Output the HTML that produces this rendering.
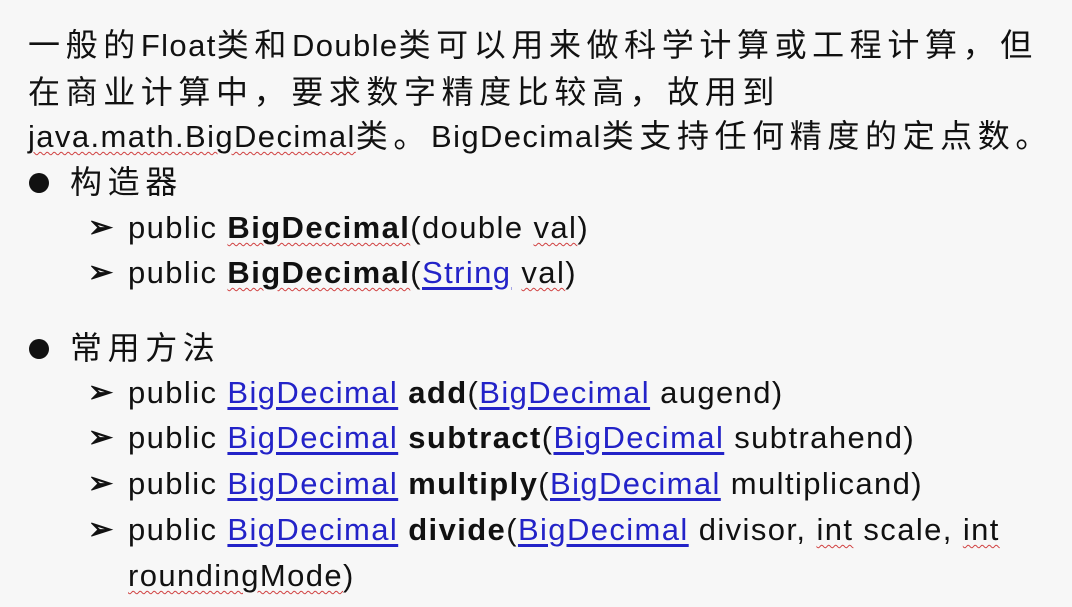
<!DOCTYPE html>
<html><head><meta charset="utf-8">
<style>
html,body{margin:0;padding:0;}
body{width:1072px;height:607px;background:#f7f7f7;position:relative;overflow:hidden;
font-family:"Liberation Sans","Noto Sans CJK SC",sans-serif;font-size:31px;letter-spacing:1.4px;color:#111;}
.l{position:absolute;white-space:nowrap;line-height:40px;}
.c{font-size:32px;letter-spacing:5.6px;}
.r{text-decoration:underline wavy #d04040;text-decoration-thickness:1px;text-underline-offset:4px;}
.a{color:#2323c8;text-decoration:underline;text-decoration-color:#2323c8;text-underline-offset:4px;}
b{font-weight:bold;}
.bul{position:absolute;width:20px;height:20px;border-radius:50%;background:#111;}
.arr{position:absolute;left:0;top:0;font-size:30px;font-weight:bold;letter-spacing:0;}
.t{position:absolute;left:40px;top:0;}
</style></head><body>
<div class="l" style="left:28px;top:25px;"><span class="c">一般的</span>Float<span class="c">类和</span>Double<span class="c">类可以用来做科学计算或工程计算，但</span></div>
<div class="l" style="left:28px;top:72px;"><span class="c">在商业计算中，要求数字精度比较高，故用到</span></div>
<div class="l" style="left:28px;top:116px;"><span class="r">java.math.BigDecimal</span><span class="c">类。</span>BigDecimal<span class="c">类支持任何精度的定点数。</span></div>
<div class="bul" style="left:29px;top:173px;"></div>
<div class="l" style="left:70px;top:162px;"><span class="c">构造器</span></div>
<div class="l" style="left:88px;top:208px;"><span class="arr">➢</span><span class="t">public <b class="r">BigDecimal</b>(double <span class="r">val</span>)</span></div>
<div class="l" style="left:88px;top:253px;"><span class="arr">➢</span><span class="t">public <b class="r">BigDecimal</b>(<span class="a">String</span> <span class="r">val</span>)</span></div>
<div class="bul" style="left:29px;top:339px;"></div>
<div class="l" style="left:70px;top:328px;"><span class="c">常用方法</span></div>
<div class="l" style="left:88px;top:373px;"><span class="arr">➢</span><span class="t">public <span class="a">BigDecimal</span> <b>add</b>(<span class="a">BigDecimal</span> augend)</span></div>
<div class="l" style="left:88px;top:418px;"><span class="arr">➢</span><span class="t">public <span class="a">BigDecimal</span> <b>subtract</b>(<span class="a">BigDecimal</span> subtrahend)</span></div>
<div class="l" style="left:88px;top:464px;"><span class="arr">➢</span><span class="t">public <span class="a">BigDecimal</span> <b>multiply</b>(<span class="a">BigDecimal</span> multiplicand)</span></div>
<div class="l" style="left:88px;top:510px;"><span class="arr">➢</span><span class="t">public <span class="a">BigDecimal</span> <b>divide</b>(<span class="a">BigDecimal</span> divisor, <span class="r">int</span> scale, <span class="r">int</span></span></div>
<div class="l" style="left:128px;top:556px;"><span class="r">roundingMode</span>)</div>
</body></html>
